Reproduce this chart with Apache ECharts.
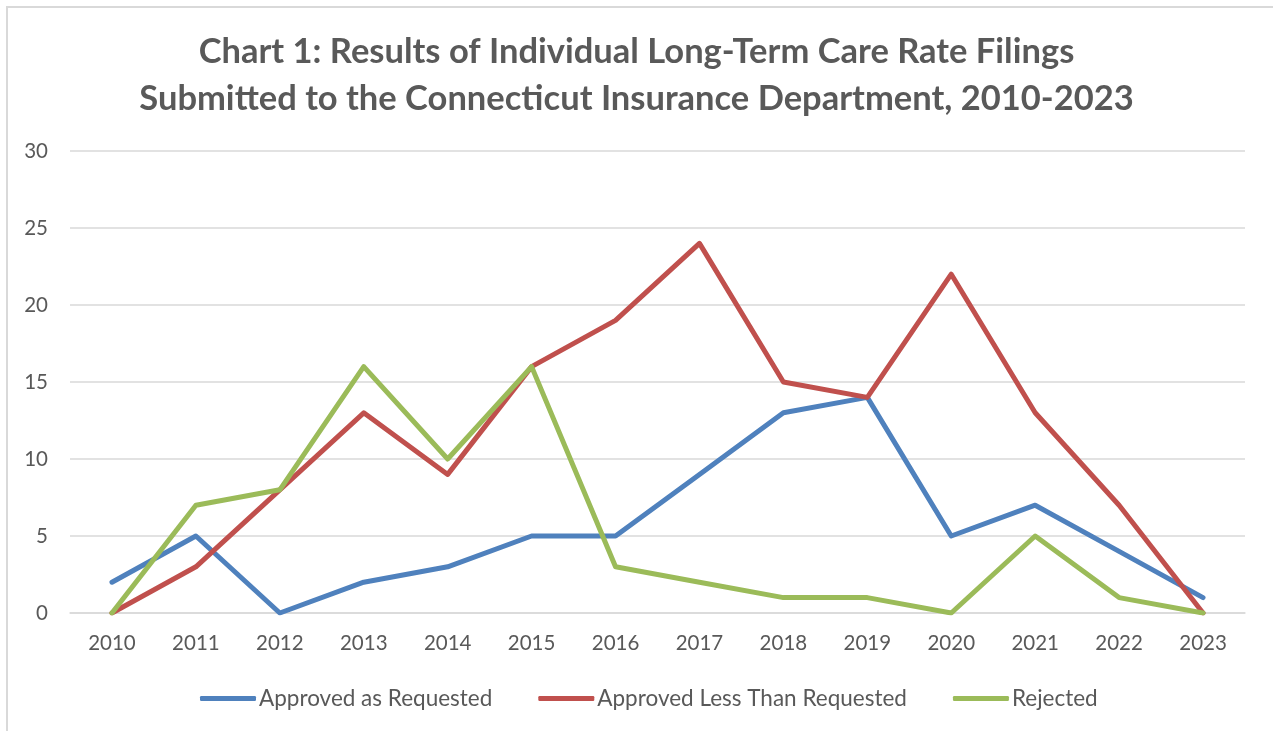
<!DOCTYPE html>
<html>
<head>
<meta charset="utf-8">
<title>LTC Rate Filings</title>
<script src="https://cdn.jsdelivr.net/npm/echarts@6/dist/echarts.min.js"></script>
<style>
  html, body { margin: 0; padding: 0; background: #fff; }
  #chart { width: 1273px; height: 731px; }
</style>
</head>
<body>
<div id="chart"></div>
<script>
const years = ['2010', '2011', '2012', '2013', '2014', '2015', '2016', '2017', '2018', '2019', '2020', '2021', '2022', '2023']
const approvedAsRequested = [2, 5, 0, 2, 3, 5, 5, 9, 13, 14, 5, 7, 4, 1]
const approvedLess = [0, 3, 8, 13, 9, 16, 19, 24, 15, 14, 22, 13, 7, 0]
const rejected = [0, 7, 8, 16, 10, 16, 3, 2, 1, 1, 0, 5, 1, 0]

const font = 'Lato, "Open Sans", sans-serif'
const textColor = '#595959'

let chart = echarts.init(document.getElementById('chart'))

function lineSeries(name, data, color) {
  return {
    name,
    type: 'line',
    data,
    symbol: 'none',
    color,
    lineStyle: { color, width: 5, cap: 'round', join: 'round' }
  }
}

chart.setOption({
  animation: false,
  backgroundColor: '#fff',
  color: ['#4F81BD', '#C0504D', '#9BBB59'],
  graphic: [{
    type: 'rect',
    shape: { x: 7, y: 7, width: 1300, height: 800 },
    style: { fill: 'none', stroke: '#d9d9d9', lineWidth: 2 },
    silent: true
  }],
  title: {
    text: 'Chart 1: Results of Individual Long-Term Care Rate Filings\nSubmitted to the Connecticut Insurance Department, 2010-2023',
    left: 'center',
    top: 23,
    textStyle: {
      fontFamily: font,
      fontSize: 34.5,
      fontWeight: 'bold',
      color: textColor,
      lineHeight: 47
    }
  },
  legend: {
    bottom: 16,
    left: 195,
    itemWidth: 56,
    itemHeight: 5,
    itemGap: 46,
    icon: 'roundRect',
    textStyle: { fontFamily: font, fontSize: 22.5, color: textColor, padding: [0, 0, 0, -2] }
  },
  grid: {
    left: 70,
    right: 28,
    top: 151,
    bottom: 118,
    containLabel: false
  },
  xAxis: {
    type: 'category',
    data: years,
    boundaryGap: true,
    axisLine: { show: true, lineStyle: { color: '#d9d9d9', width: 1.5 } },
    axisTick: { show: false },
    axisLabel: { fontFamily: font, fontSize: 20.5, color: textColor, margin: 20 }
  },
  yAxis: {
    type: 'value',
    min: 0,
    max: 30,
    interval: 5,
    axisLine: { show: false },
    axisTick: { show: false },
    splitLine: { lineStyle: { color: '#d9d9d9', width: 1.5 } },
    axisLabel: { fontFamily: font, fontSize: 20.5, color: textColor, margin: 22 }
  },
  series: [
    lineSeries('Approved as Requested', approvedAsRequested, '#4F81BD'),
    lineSeries('Approved Less Than Requested', approvedLess, '#C0504D'),
    lineSeries('Rejected', rejected, '#9BBB59')
  ]
})
</script>
</body>
</html>
